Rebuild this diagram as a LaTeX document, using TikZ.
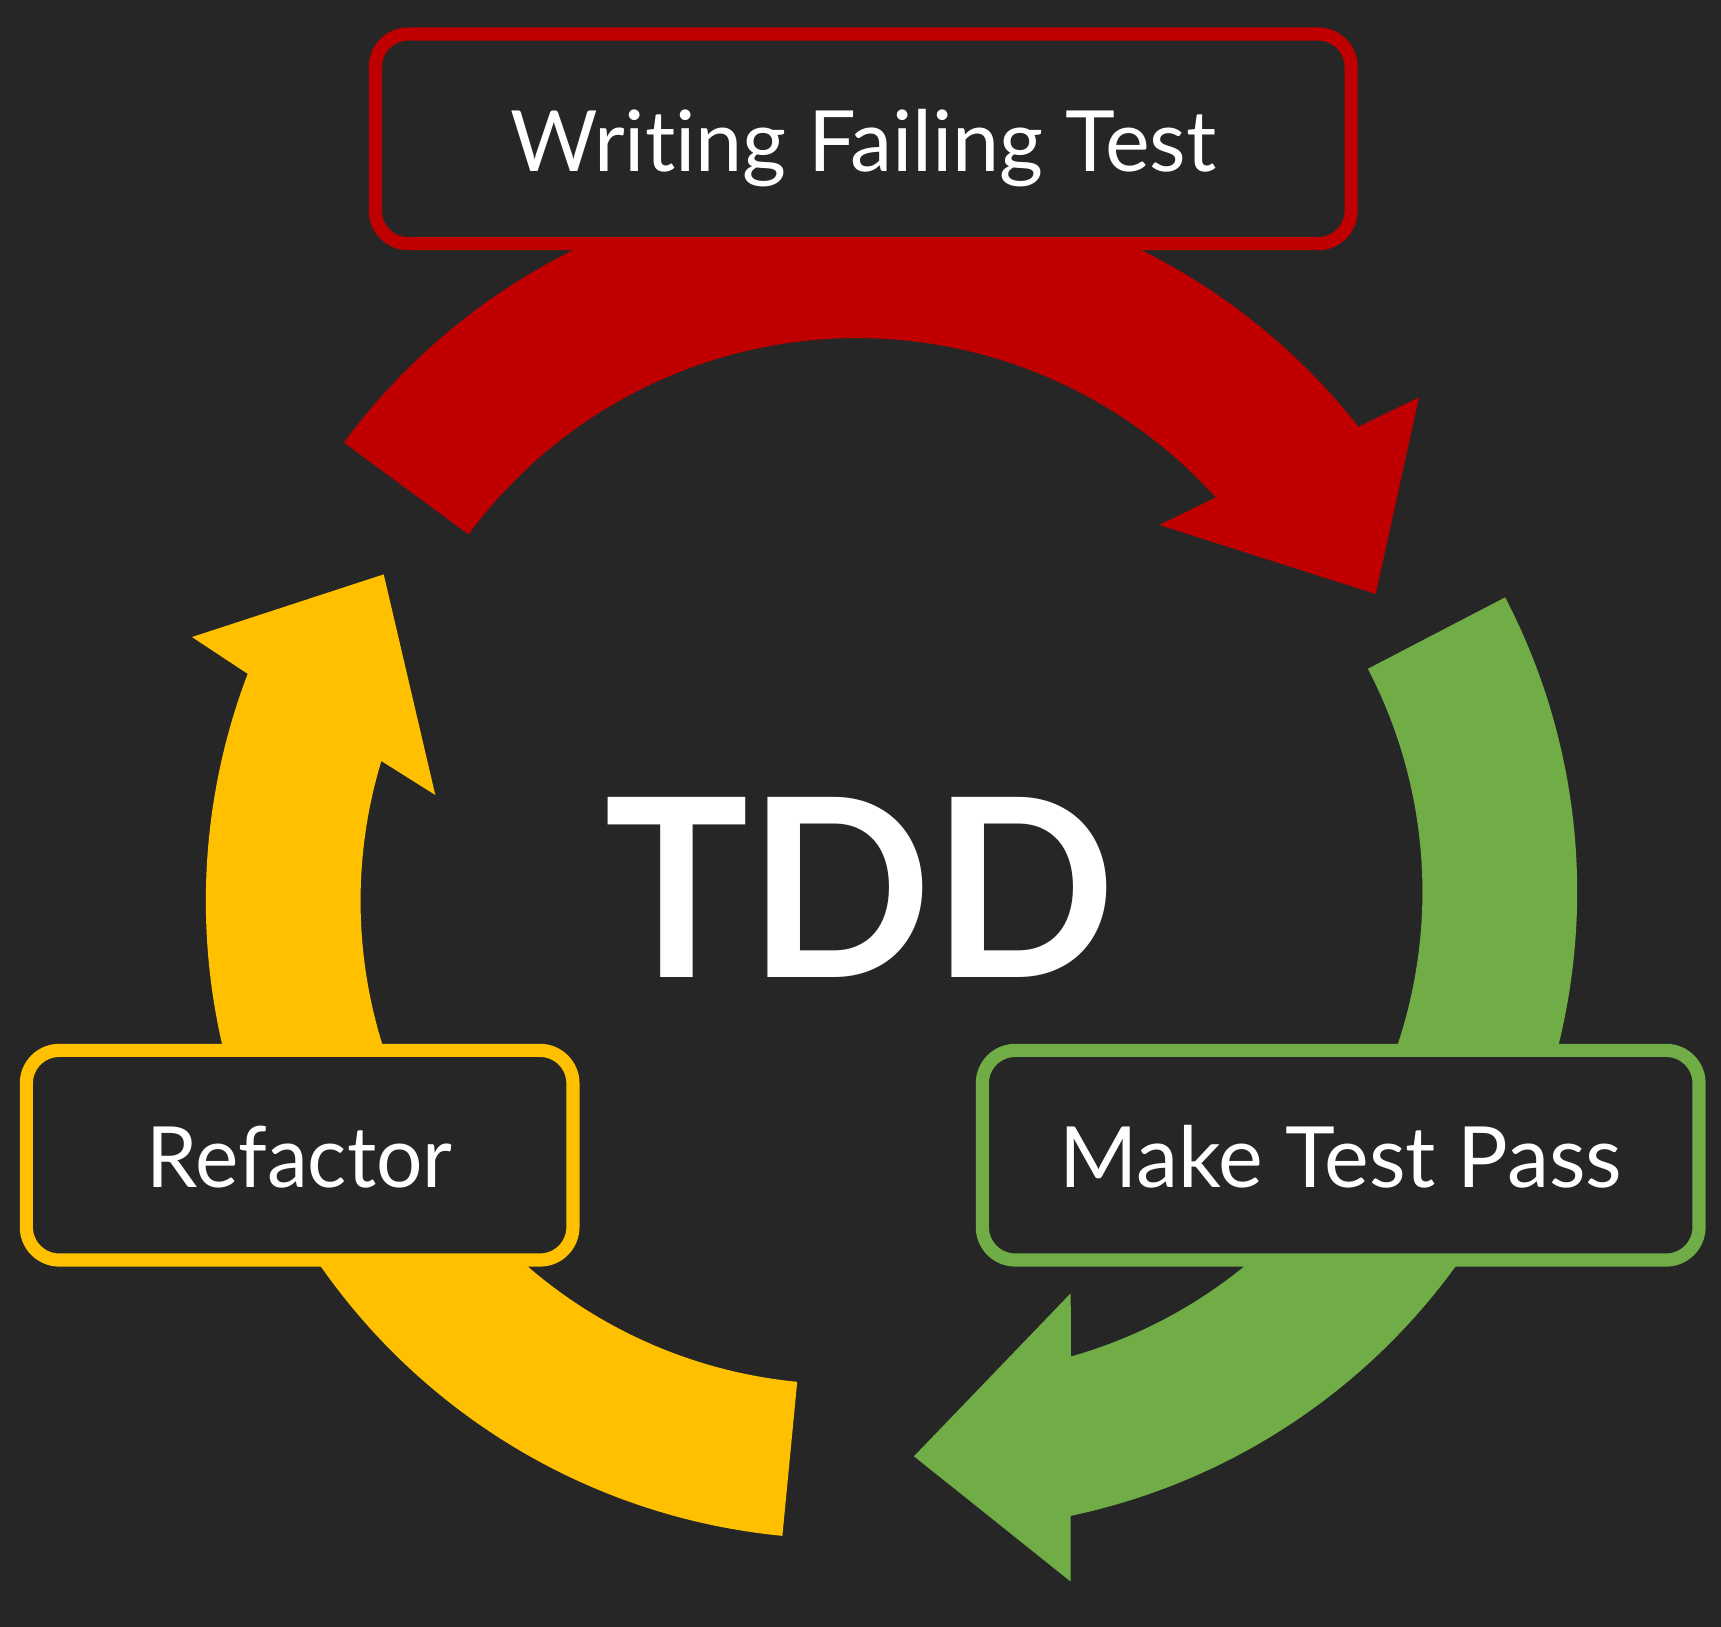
\documentclass[tikz,border=0pt]{standalone}
\usepackage{fontspec}
\setmainfont{Lato}[Ligatures=NoCommon]
\definecolor{bgdark}{HTML}{262626}
\definecolor{tddred}{HTML}{C00000}
\definecolor{tddyellow}{HTML}{FFC000}
\definecolor{tddgreen}{HTML}{70AD47}
\begin{document}
\begin{tikzpicture}[x=1pt,y=1pt,
  stagebox/.style={draw=#1, line width=12pt, fill=bgdark, rounded corners=30pt,
    minimum height=191pt, text=white, font=\fontsize{77}{90}\selectfont,
    text height=59pt, text depth=0pt, inner sep=0pt},
  cyclearrow/.style={fill=#1}]
\fill[bgdark] (0,0) rectangle (1568,-1482);
\useasboundingbox (0,0) rectangle (1568,-1482);
\coordinate (cr) at (781,-748);
\coordinate (cyl) at (768.5,-821);
\coordinate (cg) at (856,-812.5);
% red arrow
\fill[cyclearrow=tddred] ([shift={(cr)}]143.6:581) arc[start angle=143.6, end angle=38.18, radius=581]
  -- (1292.8,-362) -- (1253.4,-541.2) -- (1056.2,-478.3)
  -- ([shift={(cr)}]42.06:440) arc[start angle=42.06, end angle=143.6, radius=440] -- cycle;
% green arrow
\fill[cyclearrow=tddgreen] ([shift={(cg)}]27.5:581) arc[start angle=27.5, end angle=-78.13, radius=581]
  -- (975.5,-1441.0) -- (832.7,-1326.8) -- (975.5,-1178.3)
  -- ([shift={(cg)}]-74.21:440) arc[start angle=-74.21, end angle=27.5, radius=440] -- cycle;
% yellow arrow
\fill[cyclearrow=tddyellow] ([shift={(cyl)}]264.5:581) arc[start angle=264.5, end angle=159.12, radius=581]
  -- (174.9,-580.4) -- (349.6,-523.3) -- (396.6,-724.3)
  -- ([shift={(cyl)}]163.14:440) arc[start angle=163.14, end angle=264.5, radius=440] -- cycle;
% boxes
\node[stagebox=tddred, minimum width=889pt] (write) at (786.5,-126.5) {Writing Failing Test};
\node[stagebox=tddyellow, minimum width=498pt] (refactor) at (273,-1052.5) {\scalebox{0.97}[1]{Refactor}};
\node[stagebox=tddgreen, minimum width=653pt] (pass) at (1221.5,-1052.5) {Make Test Pass};
\node[text=white, font=\bfseries\fontsize{227}{250}\selectfont, text height=163pt, text depth=0pt, inner sep=0pt] (tdd) at (783.5,-809.5) {\scalebox{0.968}[1]{TDD}};
\end{tikzpicture}
\end{document}
